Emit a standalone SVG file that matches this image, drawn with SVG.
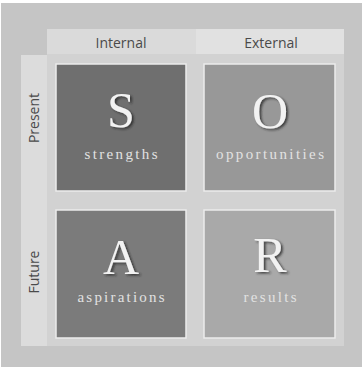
<svg xmlns="http://www.w3.org/2000/svg" width="363" height="369" viewBox="0 0 363 369">
  <defs>
    <style>
      .hdr { font-family: "Open Sans", "Liberation Sans", sans-serif; font-size: 14px; fill: #4a4a4a; text-anchor: middle; }
      .big { font-family: "Liberation Serif", "DejaVu Serif", serif; font-size: 50px; fill: #f2f2f2; text-anchor: middle; filter: url(#sh); }
      .lbl { font-family: "Liberation Serif", "DejaVu Serif", serif; font-size: 15px; fill: #e2e2e2; text-anchor: middle; }
      .box { stroke: #ececec; stroke-width: 1.5; }
    </style>
    <filter id="sh" x="-20%" y="-20%" width="150%" height="150%">
      <feDropShadow dx="2" dy="1.5" stdDeviation="0.8" flood-color="#222" flood-opacity="0.75"/>
    </filter>
  </defs>
  <rect x="0" y="0" width="363" height="369" fill="#ffffff"/>
  <rect x="1" y="3" width="361" height="364" fill="#c5c5c5"/>
  <g id="panel">
    <rect x="47" y="54" width="297" height="292" fill="#d2d2d2"/>
  </g>
  <g id="header-internal">
    <rect x="47" y="29" width="149" height="25" fill="#dadada"/>
    <text class="hdr" x="121" y="48">Internal</text>
  </g>
  <g id="header-external">
    <rect x="196" y="29" width="148" height="25" fill="#e1e1e1"/>
    <text class="hdr" x="271" y="48">External</text>
  </g>
  <g id="side">
    <rect x="21" y="55" width="26" height="291" fill="#dcdcdc"/>
  </g>
  <g id="row-present">
    <text class="hdr" transform="translate(39,118) rotate(-90)">Present</text>
  </g>
  <g id="row-future">
    <text class="hdr" transform="translate(39,272) rotate(-90)">Future</text>
  </g>
  <g id="strengths">
    <rect class="box" x="56" y="64" width="130" height="127" fill="#6f6f6f"/>
    <text class="big" x="121" y="127">S</text>
    <text class="lbl" x="121" y="159" textLength="73" lengthAdjust="spacing">strengths</text>
  </g>
  <g id="opportunities">
    <rect class="box" x="204" y="64" width="131" height="127" fill="#989898"/>
    <text class="big" x="270" y="128">O</text>
    <text class="lbl" x="270" y="159" textLength="108" lengthAdjust="spacing">opportunities</text>
  </g>
  <g id="aspirations">
    <rect class="box" x="56" y="210" width="130" height="128" fill="#7b7b7b"/>
    <text class="big" x="121" y="274">A</text>
    <text class="lbl" x="121" y="302" textLength="87" lengthAdjust="spacing">aspirations</text>
  </g>
  <g id="results">
    <rect class="box" x="204" y="210" width="131" height="128" fill="#a9a9a9"/>
    <text class="big" x="270" y="272">R</text>
    <text class="lbl" x="270" y="302" textLength="53" lengthAdjust="spacing">results</text>
  </g>
  <g id="connectors"/>
</svg>
